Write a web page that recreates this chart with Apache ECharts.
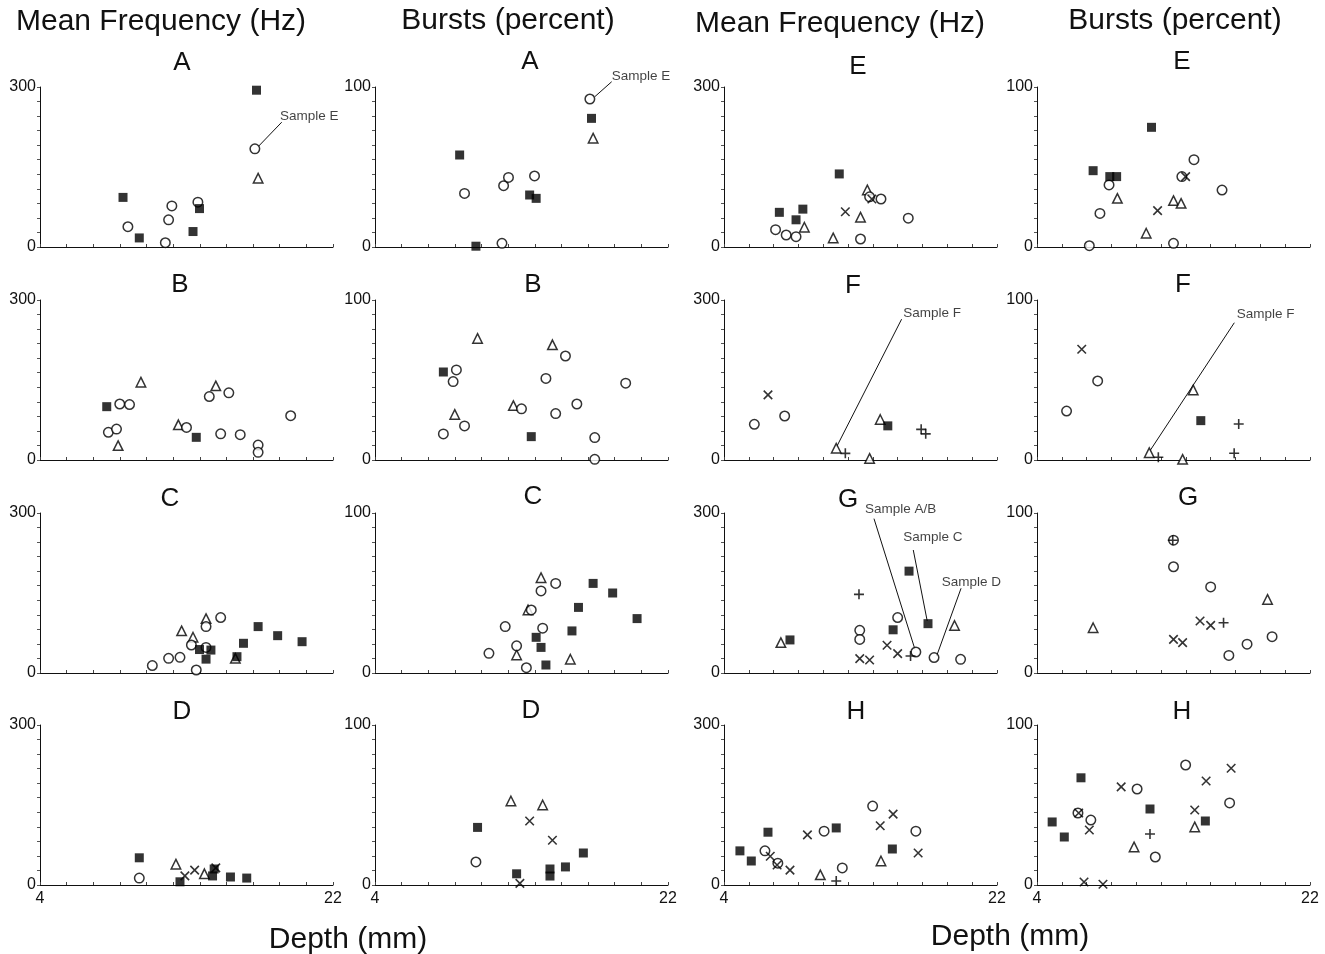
<!DOCTYPE html>
<html><head><meta charset="utf-8">
<script src="https://cdn.jsdelivr.net/npm/echarts@6/dist/echarts.min.js"></script>
<style>html,body{margin:0;padding:0;background:#fff}#c{width:1325px;height:954px}</style>
</head><body><div id="c"></div>
<script>
// ---------- DATA (depth mm, value) ----------
const xTickLabels = [4, 22];
const freqTickLabels = [0, 300];
const burstTickLabels = [0, 100];

// Mean Frequency A
const freqA_sq = [[17.3,294],[9.1,93],[10.1,17],[13.8,72],[13.4,29]];
const freqA_ci = [[9.4,38],[11.7,8],[11.9,51],[12.1,77],[13.7,84],[17.2,184]];
const freqA_tr = [[17.4,129]];
// Bursts A
const burstA_sq = [[9.2,57.5],[10.2,0.5],[13.5,32.5],[13.9,30.4],[17.3,80.4]];
const burstA_ci = [[9.5,33.5],[11.8,2.3],[11.9,38.3],[12.2,43.5],[13.8,44.4],[17.2,92.5]];
const burstA_tr = [[17.4,68]];
// Mean Frequency B
const freqB_sq = [[8.1,100],[13.6,42.5]];
const freqB_ci = [[8.2,52],[8.7,58],[8.9,105],[9.5,104],[13,61],[14.4,119],[15.1,49],[15.6,126],[16.3,47.5],[17.4,28],[17.4,14.4],[19.4,83]];
const freqB_tr = [[8.8,27],[10.2,146],[12.5,66],[14.8,139]];
// Bursts B
const burstB_sq = [[8.2,55],[13.6,14.6]];
const burstB_ci = [[8.2,16.3],[8.8,49],[9,56.3],[9.5,21.3],[13,32],[14.5,51],[15.1,29],[15.7,65],[16.4,35],[17.5,14],[17.5,0.4],[19.4,48]];
const burstB_tr = [[8.9,28.5],[10.3,76],[12.5,34],[14.9,72]];
// Mean Frequency C
const freqC_sq = [[13.8,44],[14.2,26],[14.5,43],[16.1,30.6],[16.5,55.7],[17.4,87],[18.6,70],[20.1,58.7]];
const freqC_ci = [[10.9,14],[11.9,27.5],[12.6,29.4],[13.3,52.5],[13.6,5.6],[14.2,87],[14.2,48],[15.1,104]];
const freqC_tr = [[12.7,79],[13.4,67],[14.2,102],[16,27.5]];
// Bursts C
const burstC_sq = [[13.9,22.3],[14.2,16],[14.5,5],[16.1,26.3],[16.5,41],[17.4,56],[18.6,50],[20.1,34]];
const burstC_ci = [[11,12.3],[12,29],[12.7,17],[13.3,3.3],[13.6,39.4],[14.2,51.3],[14.3,28],[15.1,56]];
const burstC_tr = [[12.7,11.3],[13.4,39.4],[14.2,59.6],[16,8.6]];
// Mean Frequency D
const freqD_sq = [[10.1,51],[12.6,6],[14.7,30],[14.6,17],[15.7,15],[16.7,13]];
const freqD_ci = [[10.1,13]];
const freqD_tr = [[12.35,39],[14.1,21]];
const freqD_x = [[12.9,17],[13.5,28],[14.8,32]];
// Bursts D
const burstD_sq = [[10.3,36],[12.7,7],[14.75,10],[14.75,5.6],[15.7,11.3],[16.8,20]];
const burstD_ci = [[10.2,14.4]];
const burstD_tr = [[12.35,52.5],[14.3,50]];
const burstD_x = [[12.9,1],[13.5,40],[14.9,28]];
// Mean Frequency E
const freqE_sq = [[7.65,65],[8.75,51],[9.2,71],[11.6,137]];
const freqE_ci = [[7.4,32.5],[8.1,22.5],[8.75,19.4],[13,15],[13.6,94],[14.35,90],[16.15,54]];
const freqE_tr = [[9.3,37],[11.2,17],[13,56],[13.45,107]];
const freqE_x = [[12,66],[13.75,90]];
// Bursts E
const burstE_sq = [[7.7,47.7],[8.8,44],[9.25,44],[11.55,74.8]];
const burstE_ci = [[7.45,0.8],[8.15,21],[8.75,38.8],[13,2.3],[13.55,44],[14.35,54.6],[16.2,35.6]];
const burstE_tr = [[9.3,30.4],[11.2,8.6],[13,29],[13.5,27.3]];
const burstE_x = [[11.95,22.7],[13.8,44]];
// Mean Frequency F
const freqF_sq = [[14.8,64]];
const freqF_ci = [[6,67],[8,82.5]];
const freqF_tr = [[11.4,22],[13.6,3],[14.3,76]];
const freqF_x = [[6.9,122]];
const freqF_p = [[12,12.5],[17,57.5],[17.3,49]];
// Bursts F
const burstF_sq = [[14.8,24.6]];
const burstF_ci = [[5.95,30.6],[8,49.4]];
const burstF_tr = [[11.4,4.6],[13.6,0.4],[14.3,43.8]];
const burstF_x = [[6.95,69.2]];
const burstF_p = [[12,1.7],[17.3,22.5],[17,4.2]];
// Mean Frequency G
const freqG_sq = [[8.35,62],[15.15,81],[16.2,191],[17.45,92.5]];
const freqG_ci = [[12.95,80],[12.95,63],[15.45,104],[16.65,39.4],[17.85,29],[19.6,25.6]];
const freqG_tr = [[7.75,57],[19.2,89]];
const freqG_x = [[12.95,27],[13.6,24.4],[14.75,52],[15.45,36.3]];
const freqG_p = [[12.9,147.5],[16.3,32]];
// Bursts G
const burstG_ci = [[13,83],[13,66.4],[15.45,53.8],[16.65,11],[17.85,18],[19.5,22.7]];
const burstG_tr = [[7.7,28.3],[19.2,46]];
const burstG_x = [[13,21],[13.6,19],[14.75,32.5],[15.45,29.8]];
const burstG_p = [[12.95,83],[16.3,31.4]];
// Mean Frequency H
const freqH_sq = [[5.05,64],[5.8,45],[6.9,99],[11.4,107],[15.1,67.5]];
const freqH_ci = [[6.7,64],[7.55,41],[10.6,101],[11.8,32],[13.8,148],[16.65,101]];
const freqH_tr = [[10.35,19],[14.35,45]];
const freqH_x = [[7.05,54],[7.5,37.5],[8.35,28],[9.5,94],[14.3,111],[15.15,133],[16.8,60]];
const freqH_p = [[11.4,7.5]];
// Bursts H
const burstH_sq = [[5,39.4],[5.8,30],[6.9,67],[11.45,47.5],[15.1,40]];
const burstH_ci = [[6.7,45],[7.55,40.6],[10.6,60],[11.8,17.5],[13.8,75],[16.7,51.3]];
const burstH_tr = [[10.4,23.8],[14.4,36.3]];
const burstH_x = [[6.75,45],[7.45,34.4],[7.1,1.9],[8.35,0.5],[9.55,61.3],[14.4,46.9],[15.15,65],[16.8,73]];
const burstH_p = [[11.45,31.9]];

// annotations (data coordinates of leader line ends and text anchor)
const annFreqA = [{text:'Sample E', line:[[17.43,189],[18.85,234]], at:[18.74,245]}];
const annBurstA = [{text:'Sample E', line:[[17.51,94],[18.54,103.3]], at:[18.54,106.4]}];
const annFreqF = [{text:'Sample F', line:[[11.43,25],[15.71,264]], at:[15.82,275]}];
const annBurstF = [{text:'Sample F', line:[[11.45,5.8],[17.01,85.8]], at:[17.17,91]}];
const annFreqG = [
  {text:'Sample A/B', line:[[16.59,44.4],[13.89,289.4]], at:[13.3,307]},
  {text:'Sample C', line:[[17.4,97.5],[16.48,230.6]], at:[15.82,255]},
  {text:'Sample D', line:[[18.02,31.9],[19.63,158.8]], at:[18.35,170.6]}
];

// ---------- LAYOUT ----------
const colLeft=[40,375,724,1037], colW=[293,293,273,273], rowTop=[87,300,513,725], H=160;
const panels = [
  {c:0,r:0,max:300,L:'A',lp:[182,63],sq:freqA_sq,ci:freqA_ci,tr:freqA_tr,ann:annFreqA},
  {c:1,r:0,max:100,L:'A',lp:[530,62],sq:burstA_sq,ci:burstA_ci,tr:burstA_tr,ann:annBurstA},
  {c:2,r:0,max:300,L:'E',lp:[858,67],sq:freqE_sq,ci:freqE_ci,tr:freqE_tr,x:freqE_x},
  {c:3,r:0,max:100,L:'E',lp:[1182,62],sq:burstE_sq,ci:burstE_ci,tr:burstE_tr,x:burstE_x},
  {c:0,r:1,max:300,L:'B',lp:[180,285],sq:freqB_sq,ci:freqB_ci,tr:freqB_tr},
  {c:1,r:1,max:100,L:'B',lp:[533,285],sq:burstB_sq,ci:burstB_ci,tr:burstB_tr},
  {c:2,r:1,max:300,L:'F',lp:[853,286],sq:freqF_sq,ci:freqF_ci,tr:freqF_tr,x:freqF_x,p:freqF_p,ann:annFreqF},
  {c:3,r:1,max:100,L:'F',lp:[1183,285],sq:burstF_sq,ci:burstF_ci,tr:burstF_tr,x:burstF_x,p:burstF_p,ann:annBurstF},
  {c:0,r:2,max:300,L:'C',lp:[170,499],sq:freqC_sq,ci:freqC_ci,tr:freqC_tr},
  {c:1,r:2,max:100,L:'C',lp:[533,497],sq:burstC_sq,ci:burstC_ci,tr:burstC_tr},
  {c:2,r:2,max:300,L:'G',lp:[848,500],sq:freqG_sq,ci:freqG_ci,tr:freqG_tr,x:freqG_x,p:freqG_p,ann:annFreqG},
  {c:3,r:2,max:100,L:'G',lp:[1188,498],ci:burstG_ci,tr:burstG_tr,x:burstG_x,p:burstG_p},
  {c:0,r:3,max:300,L:'D',lp:[182,712],sq:freqD_sq,ci:freqD_ci,tr:freqD_tr,x:freqD_x},
  {c:1,r:3,max:100,L:'D',lp:[531,711],sq:burstD_sq,ci:burstD_ci,tr:burstD_tr,x:burstD_x},
  {c:2,r:3,max:300,L:'H',lp:[856,712],sq:freqH_sq,ci:freqH_ci,tr:freqH_tr,x:freqH_x,p:freqH_p},
  {c:3,r:3,max:100,L:'H',lp:[1182,712],sq:burstH_sq,ci:burstH_ci,tr:burstH_tr,x:burstH_x,p:burstH_p}
];

const INK='#111';
const STY = {
  sq:{symbol:'rect',symbolSize:9,itemStyle:{color:'#000'}},
  ci:{symbol:'circle',symbolSize:9.5,itemStyle:{color:'#fff',borderColor:'#000',borderWidth:1.5}},
  tr:{symbol:'triangle',symbolSize:9.5,itemStyle:{color:'#fff',borderColor:'#000',borderWidth:1.5}},
  x:{symbol:'path://M0,0L10,10M10,0L0,10',symbolSize:8.5,itemStyle:{color:'none',borderColor:'#000',borderWidth:1.6}},
  p:{symbol:'path://M5,0L5,10M0,5L10,5',symbolSize:10,itemStyle:{color:'none',borderColor:'#000',borderWidth:1.6}}
};
const FONT='"Liberation Sans", Arial, sans-serif';
const xTickVals = Array.from({length:12},(_,i)=>4+i*18/11);

const grid=[], xAxis=[], yAxis=[], series=[], graphic=[];
panels.forEach((P,i)=>{
  grid.push({left:colLeft[P.c], top:rowTop[P.r], width:colW[P.c], height:H});
  xAxis.push({type:'value', gridIndex:i, min:4, max:22,
    axisLine:{lineStyle:{color:INK,width:1}}, splitLine:{show:false},
    axisTick:{show:true, inside:true, length:3, lineStyle:{color:'#444'}, customValues:xTickVals},
    axisLabel:{show:P.r===3, customValues:xTickLabels, fontSize:16, color:INK, fontFamily:FONT, margin:6}
  });
  const yTicks = Array.from({length:12},(_,k)=>k*P.max/11);
  yAxis.push({type:'value', gridIndex:i, min:0, max:P.max,
    axisLine:{show:true,lineStyle:{color:INK,width:1}}, splitLine:{show:false},
    axisTick:{show:true, length:3, lineStyle:{color:'#555'}, customValues:yTicks},
    axisLabel:{customValues:P.max===300?freqTickLabels:burstTickLabels, fontSize:16, color:INK, fontFamily:FONT, margin:4}
  });
  ['tr','ci','sq','x','p'].forEach(k=>{
    if(!P[k]) return;
    series.push(Object.assign({type:'scatter', xAxisIndex:i, yAxisIndex:i, data:P[k], clip:false, silent:true, animation:false}, JSON.parse(JSON.stringify(STY[k]))));
  });
  (P.ann||[]).forEach(a=>{
    series.push({type:'line', xAxisIndex:i, yAxisIndex:i, data:a.line, symbol:'none', clip:false, silent:true, animation:false, z:1,
      lineStyle:{color:INK,width:1}});
    series.push({type:'scatter', xAxisIndex:i, yAxisIndex:i, data:[a.at], symbolSize:0, clip:false, silent:true, animation:false,
      label:{show:true, formatter:a.text, position:'right', distance:0, fontSize:13.5, color:INK, fontFamily:FONT}});
  });
  graphic.push({type:'text', x:P.lp[0], y:P.lp[1], style:{text:P.L, font:'26px '+FONT, fill:INK, textAlign:'center', textVerticalAlign:'middle'}});
});

const headers = [
  ['Mean Frequency (Hz)',161,22],['Bursts (percent)',508,21],['Mean Frequency (Hz)',840,24],['Bursts (percent)',1175,21],
  ['Depth (mm)',348,940],['Depth (mm)',1010,937]
];
headers.forEach(h=>graphic.push({type:'text', x:h[1], y:h[2], style:{text:h[0], font:'30px '+FONT, fill:INK, textAlign:'center', textVerticalAlign:'middle'}}));

const chart = echarts.init(document.getElementById('c'), null, {renderer:'canvas'});
chart.setOption({backgroundColor:'#fff', animation:false, grid, xAxis, yAxis, series, graphic});
</script></body></html>
